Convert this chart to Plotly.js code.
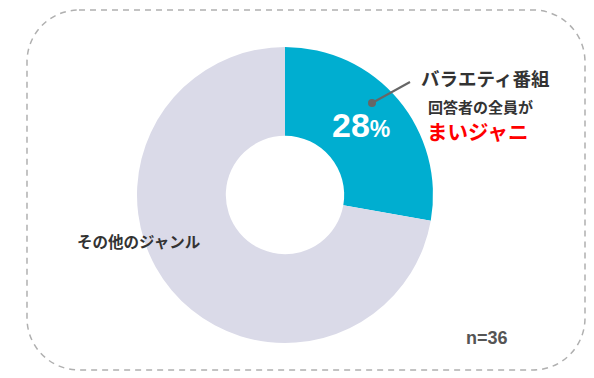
<!DOCTYPE html>
<html><head><meta charset="utf-8">
<script src="https://cdn.plot.ly/plotly-3.0.1.min.js"></script>
<style>html,body{margin:0;padding:0;background:#fff;}#chart{width:594px;height:378px;}</style>
</head><body><div id="chart"></div>
<script>
const categories = ["バラエティ番組", "その他のジャンル"];
const counts = [10, 26];
const colors = ["#00aed0", "#dadae8"];
const total = counts.reduce((a, b) => a + b, 0);
const pct = Math.round(counts[0] / total * 100);

const W = 594, H = 378;
const px = x => x / W, py = y => 1 - y / H;

// rounded dashed frame
function roundRect(l, t, r, b, rad) {
  const k = 0.5523 * rad;
  const P = (x, y) => px(x).toFixed(5) + "," + py(y).toFixed(5);
  return "M" + P(l + rad, t) + " L" + P(r - rad, t) +
    " C" + P(r - rad + k, t) + " " + P(r, t + rad - k) + " " + P(r, t + rad) +
    " L" + P(r, b - rad) +
    " C" + P(r, b - rad + k) + " " + P(r - rad + k, b) + " " + P(r - rad, b) +
    " L" + P(l + rad, b) +
    " C" + P(l + rad - k, b) + " " + P(l, b - rad + k) + " " + P(l, b - rad) +
    " L" + P(l, t + rad) +
    " C" + P(l, t + rad - k) + " " + P(l + rad - k, t) + " " + P(l + rad, t) + " Z";
}

const cx = 285, cy = 195, R = 148;
const data = [{
  type: "pie",
  labels: categories,
  values: counts,
  sort: false,
  direction: "clockwise",
  rotation: 0,
  hole: 0.4,
  textinfo: "none",
  hoverinfo: "none",
  marker: { colors: colors, line: { width: 0 } },
  domain: { x: [px(cx - R), px(cx + R)], y: [py(cy + R), py(cy - R)] },
  showlegend: false
}];

const jp = "Noto Sans CJK JP, sans-serif";
function ann(text, x, y, font) {
  return { text: text, x: px(x), y: py(y), xref: "paper", yref: "paper",
    xanchor: "center", yanchor: "middle", showarrow: false, font: font };
}
const layout = {
  width: W, height: H,
  margin: { l: 0, r: 0, t: 0, b: 0 },
  paper_bgcolor: "#fff",
  plot_bgcolor: "#fff",
  shapes: [
    { type: "path", xref: "paper", yref: "paper", path: roundRect(27, 10, 585, 370, 52),
      line: { color: "#b0b0b0", width: 1.5, dash: "6px,5px" } },
    { type: "line", xref: "paper", yref: "paper", x0: px(372), y0: py(103), x1: px(410), y1: py(82),
      line: { color: "#666", width: 2 } },
    { type: "circle", xref: "paper", yref: "paper", x0: px(368), y0: py(99), x1: px(376), y1: py(107),
      fillcolor: "#666", line: { width: 0 } }
  ],
  annotations: [
    ann("<b>" + pct + "<span style='font-size:23px'>%</span></b>", 361, 125,
      { family: "Liberation Sans, Arial, sans-serif", size: 34, color: "#fff" }),
    ann("<b>" + categories[0] + "</b>", 485, 78, { family: jp, size: 18.5, color: "#333" }),
    ann("<b>回答者の全員が</b>", 480, 106, { family: jp, size: 15, color: "#333" }),
    ann("<b>まいジャニ</b>", 477, 131, { family: jp, size: 20.5, color: "#ff0000" }),
    ann("<b>" + categories[1] + "</b>", 139, 241, { family: jp, size: 15.5, color: "#333" }),
    ann("<b>n=" + total + "</b>", 487, 338, { family: "Liberation Sans, Arial, sans-serif", size: 18, color: "#555" })
  ]
};
Plotly.newPlot("chart", data, layout, { staticPlot: true, displayModeBar: false });
</script></body></html>
